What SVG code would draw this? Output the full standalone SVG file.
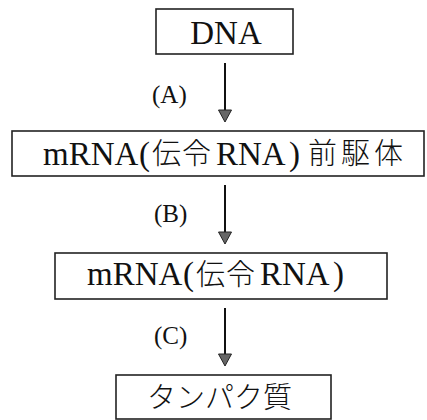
<svg xmlns="http://www.w3.org/2000/svg" width="427" height="420" viewBox="0 0 427 420">
  <style>
    .box { fill: #fff; stroke: #222; stroke-width: 1.6; }
    .lat { font-family: "Liberation Serif", "Times New Roman", serif; font-size: 33px; fill: #111; }
    .cjk { font-family: "Noto Sans CJK JP", "Noto Sans CJK SC", sans-serif; font-size: 29px; font-weight: 300; fill: #111; }
    .lbl { font-family: "Liberation Serif", "Times New Roman", serif; font-size: 25px; fill: #111; }
    .shaft { stroke: #111; stroke-width: 2; fill: none; }
    .tip { fill: #666; stroke: #222; stroke-width: 1; }
  </style>
  <rect width="427" height="420" fill="#fff"/>

  <g id="connectors">
    <line class="shaft" x1="225" y1="63" x2="225" y2="111"/>
    <path class="tip" d="M218.5,110 L231.5,110 L225,122 Z"/>
    <text class="lbl" x="152" y="103">(A)</text>

    <line class="shaft" x1="225" y1="185" x2="225" y2="233"/>
    <path class="tip" d="M218.5,232 L231.5,232 L225,244 Z"/>
    <text class="lbl" x="154" y="222">(B)</text>

    <line class="shaft" x1="225" y1="308" x2="225" y2="355"/>
    <path class="tip" d="M218.5,354 L231.5,354 L225,366 Z"/>
    <text class="lbl" x="154" y="344">(C)</text>
  </g>

  <g id="dna">
    <rect class="box" x="156" y="9" width="137" height="45"/>
    <text class="lat" x="226" y="44" text-anchor="middle">DNA</text>
  </g>

  <g id="pre-mrna">
    <rect class="box" x="12" y="131" width="412" height="45"/>
    <text class="lat" x="43" y="165">mRNA</text>
    <text class="lat" x="139" y="165">(</text>
    <text class="cjk" x="152" y="164">伝</text>
    <text class="cjk" x="182" y="164">令</text>
    <text class="lat" x="216" y="165">RNA</text>
    <text class="lat" x="289" y="165">)</text>
    <text class="cjk" x="308" y="164">前</text>
    <text class="cjk" x="341" y="164">駆</text>
    <text class="cjk" x="374" y="164">体</text>
  </g>

  <g id="mrna">
    <rect class="box" x="55" y="253" width="332" height="46"/>
    <text class="lat" x="87" y="285">mRNA</text>
    <text class="lat" x="183" y="285">(</text>
    <text class="cjk" x="196" y="285">伝</text>
    <text class="cjk" x="226" y="285">令</text>
    <text class="lat" x="260" y="285">RNA</text>
    <text class="lat" x="333" y="285">)</text>
  </g>

  <g id="protein">
    <rect class="box" x="116" y="375" width="215" height="44"/>
    <text class="cjk" x="147" y="408" font-size="30">タンパク質</text>
  </g>
</svg>
